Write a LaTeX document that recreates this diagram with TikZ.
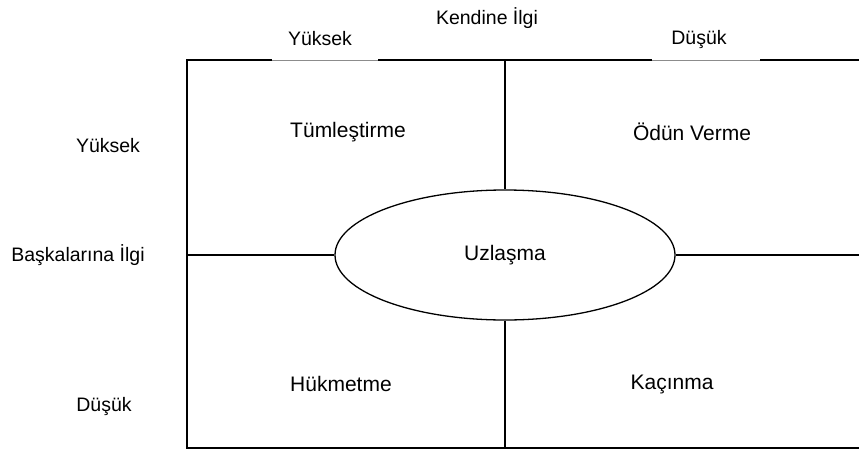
\documentclass[tikz,border=0pt]{standalone}
\usepackage{fontspec}
\setmainfont{Liberation Sans}
\usetikzlibrary{shapes.geometric}
\begin{document}
\begin{tikzpicture}[x=1pt,y=-1pt,
  edge/.style={line width=1.3pt,black},
  faint/.style={line width=0.6pt,black!45},
  lbl/.style={inner sep=0pt,font=\fontsize{19.5}{22}\selectfont},
  quad/.style={inner sep=0pt,font=\fontsize{21}{24}\selectfont}]
\useasboundingbox (0,0) rectangle (859,450);
% frame coordinates
\coordinate (tl) at (187,60);
\coordinate (bl) at (187,448);
\coordinate (tr) at (859,60);
\coordinate (br) at (859,448);
\coordinate (ml) at (187,255);
\coordinate (mr) at (859,255);
\coordinate (tm) at (505,60);
\coordinate (bm) at (505,448);
\coordinate (g1a) at (272,60);
\coordinate (g1b) at (378,60);
\coordinate (g2a) at (652,60);
\coordinate (g2b) at (760,60);
% ellipse
\node[ellipse,draw,edge,minimum width=340pt,minimum height=130pt,inner sep=0pt,
  font=\fontsize{21}{24}\selectfont] (uz) at (505,255) {Uzlaşma};
% frame
\draw[edge] (g1a) -- (tl) -- (bl) -- (br);
\draw[edge] (g1b) -- (g2a);
\draw[edge] (g2b) -- (tr);
\draw[faint] (g1a) -- (g1b);
\draw[faint] (g2a) -- (g2b);
% dividers
\draw[edge] (tm) -- (uz.north);
\draw[edge] (uz.south) -- (bm);
\draw[edge] (ml) -- (uz.west);
\draw[edge] (uz.east) -- (mr);
% labels
\node[lbl] (ki) at (487,18) {Kendine İlgi};
\node[lbl] (ty) at (320,39) {Yüksek};
\node[lbl] (td) at (699,39) {Düşük};
\node[lbl] (ly) at (108,146) {Yüksek};
\node[lbl] (lb) at (78,255) {Başkalarına İlgi};
\node[lbl] (ld) at (104,406) {Düşük};
% quadrants
\node[quad] (q1) at (348,132) {Tümleştirme};
\node[quad] (q2) at (692,132) {Ödün Verme};
\node[quad] (q3) at (341,384) {Hükmetme};
\node[quad] (q4) at (672,384) {Kaçınma};
\end{tikzpicture}
\end{document}
